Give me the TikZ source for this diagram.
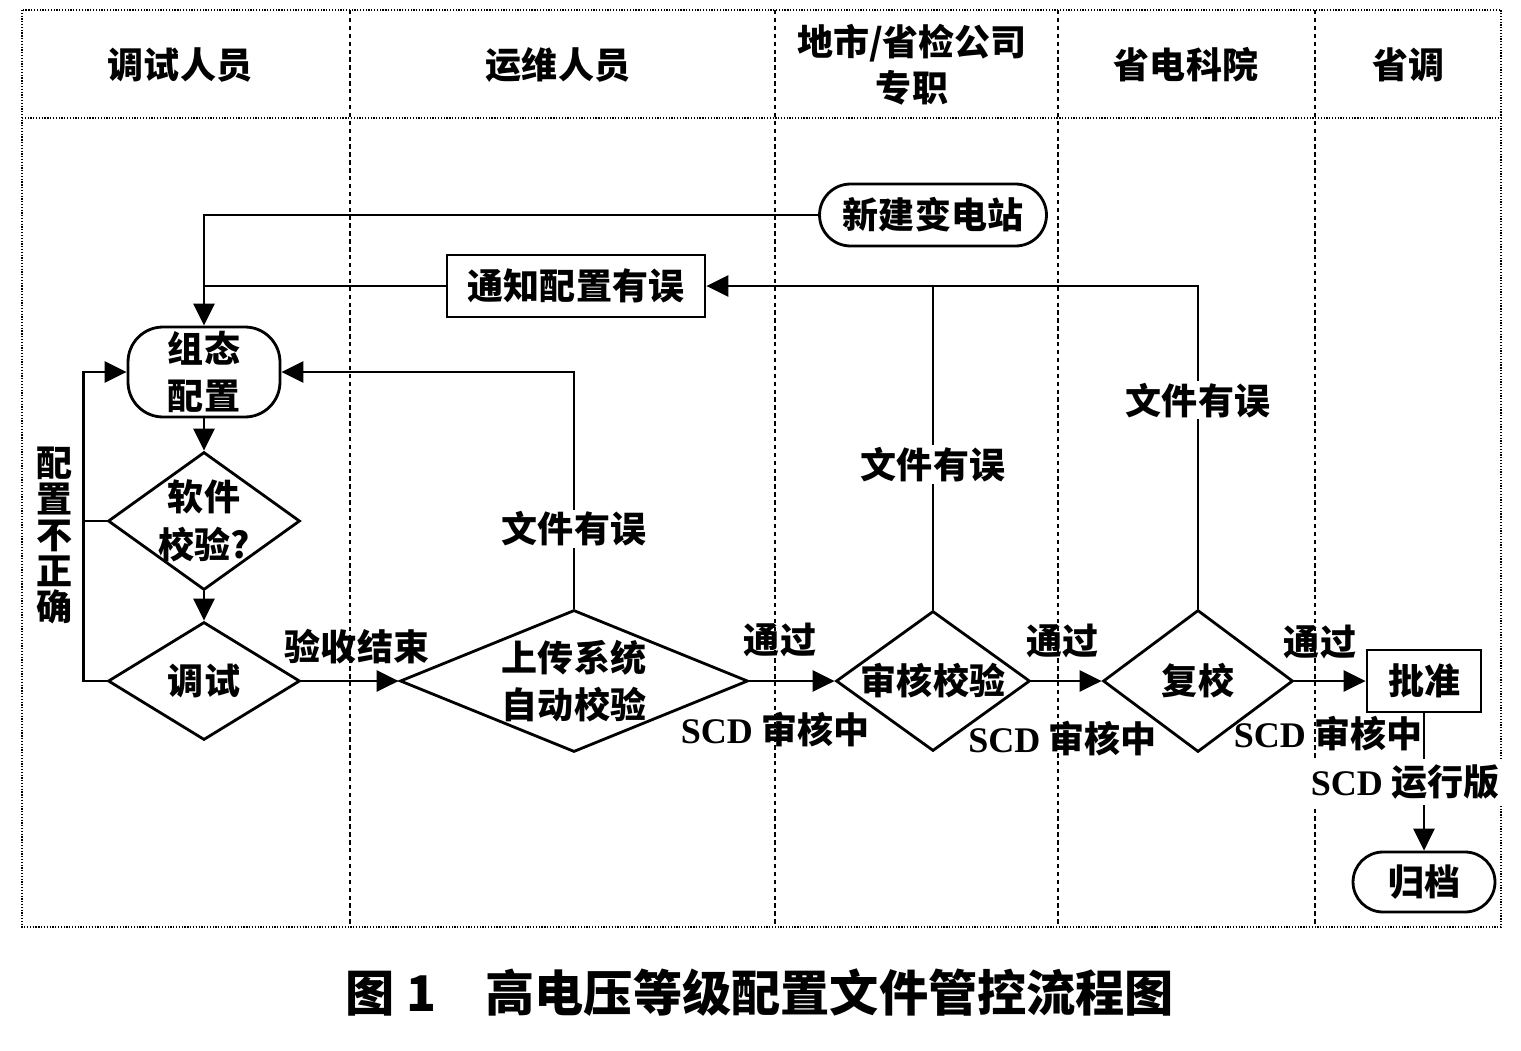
\documentclass[tikz,border=0pt]{standalone}
\usepackage{fontspec}
\setmainfont{Liberation Serif}
\newfontfamily\cjk{Noto Sans CJK SC}
\newfontfamily\latf{Liberation Serif}
\usetikzlibrary{shapes.geometric,arrows.meta}
\newcommand\SCDx{{\latf\bfseries SCD}}
\begin{document}
\begin{tikzpicture}[x=0.02cm,y=-0.02cm,
  every node/.style={font=\cjk\bfseries\fontsize{20.5}{27}\selectfont, inner sep=0pt, align=center},
  base/.style={draw, line width=1.6pt},
  rectbox/.style={base, rectangle, minimum width=#1, minimum height=1.24cm},
  pill/.style n args={3}{base, rectangle, rounded corners=#3, minimum width=#1, minimum height=#2},
  dia/.style 2 args={base, diamond, minimum width=#1, minimum height=#2, inner sep=0pt},
  line/.style={line width=1.6pt},
  arr/.style={line width=1.6pt, -{Triangle[length=0.44cm,width=0.42cm]}},
  blank/.style={fill=white, inner sep=1pt},
  frame/.style={line width=1.3pt, dash pattern=on 0.7pt off 0.9pt},
  lane/.style={line width=0.6pt, dash pattern=on 2.5pt off 2pt}
]
\useasboundingbox (0,0) rectangle (1521,1051);

% frame and lanes
\draw[frame] (22,10) rectangle (1501,927);
\draw[frame] (22,118) -- (1501,118);
\foreach \xx in {350,775,1058,1315} \draw[lane] (\xx,10) -- (\xx,927);

% headers
\node (h1) at (180,65) {调试人员};
\node (h2) at (558,65) {运维人员};
\node[font=\cjk\bfseries\fontsize{20.5}{26}\selectfont] (h3) at (912,65) {地市/省检公司\\专职};
\node (h4) at (1186,65) {省电科院};
\node (h5) at (1408,65) {省调};

% nodes
\node[pill={4.54cm}{1.24cm}{0.62cm}] (xbz) at (933,215) {新建变电站};
\node[rectbox=5.16cm] (tz) at (576,286) {通知配置有误};
\node[pill={3.04cm}{1.8cm}{0.7cm}] (zt) at (204,372) {组态\\配置};
\node[dia={3.84cm}{2.76cm}, label={[name=sjt]center:软件\\校验?}] (sj) at (204,521) {};
\node[dia={3.84cm}{2.36cm}, label={[name=tst]center:调试}] (ts) at (204,681) {};
\node[dia={6.96cm}{2.84cm}, label={[name=sct]center:上传系统\\自动校验}] (sc) at (574,681) {};
\node[dia={3.88cm}{2.8cm}, label={[name=sht]center:审核校验}] (sh) at (933,681) {};
\node[dia={3.8cm}{2.84cm}, label={[name=fjt]center:复校}] (fj) at (1198,681) {};
\node[rectbox=2.28cm] (pz) at (1424,681) {批准};
\node[pill={2.84cm}{1.2cm}{0.6cm}] (gd) at (1424,882) {归档};

% connectors
\draw[arr] (xbz.west) -| (zt.north);
\draw[line] (tz.west) -- (tz.west -| zt.north);
\draw[arr] (zt.south) -- (sj.north);
\draw[arr] (sj.south) -- (ts.north);
\draw[line] (sj.west) -- ++(-23,0);
\draw[arr] (ts.west) -- ++(-23,0) |- (zt.west);
\node[font=\cjk\bfseries\fontsize{20.5}{20.5}\selectfont] (pzbz) at (55,535) {配\\置\\不\\正\\确};

\draw[arr] (ts.east) -- (sc.west) node[midway, yshift=0.68cm, xshift=0.14cm] (ysjs) {验收结束};
\draw[arr] (sc.north) |- (zt.east) node[pos=0.168, blank] (wj1) {文件有误};
\draw[arr] (sc.east) -- (sh.west)
  node[midway, yshift=0.82cm, xshift=-0.24cm] (tg1) {通过}
  node[midway, yshift=-0.98cm, xshift=-0.34cm] (sd1) {\SCDx{} 审核中};
\draw[arr] (sh.north) |- (tz.east) node[pos=0.224, blank] (wj2) {文件有误};
\draw[line] (fj.north) |- (sh.north |- tz.east) node[pos=0.323, blank] (wj3) {文件有误};
\draw[arr] (sh.east) -- (fj.west)
  node[midway, yshift=0.8cm, xshift=-0.08cm] (tg2) {通过}
  node[midway, yshift=-1.16cm, xshift=-0.08cm] (sd2) {\SCDx{} 审核中};
\draw[arr] (fj.east) -- (pz.west)
  node[midway, yshift=0.78cm, xshift=-0.2cm] (tg3) {通过}
  node[midway, yshift=-1.06cm, xshift=-0.04cm] (sd3) {\SCDx{} 审核中};
\draw[arr] (pz.south) -- (gd.north) node[midway, blank, xshift=-0.38cm, inner sep=3pt] (yxb) {\SCDx{} 运行版};

% caption
\node[font=\cjk\bfseries\fontsize{28}{30}\selectfont] (cap) at (760,993) {图 1\hspace{1em}高电压等级配置文件管控流程图};
\end{tikzpicture}
\end{document}
